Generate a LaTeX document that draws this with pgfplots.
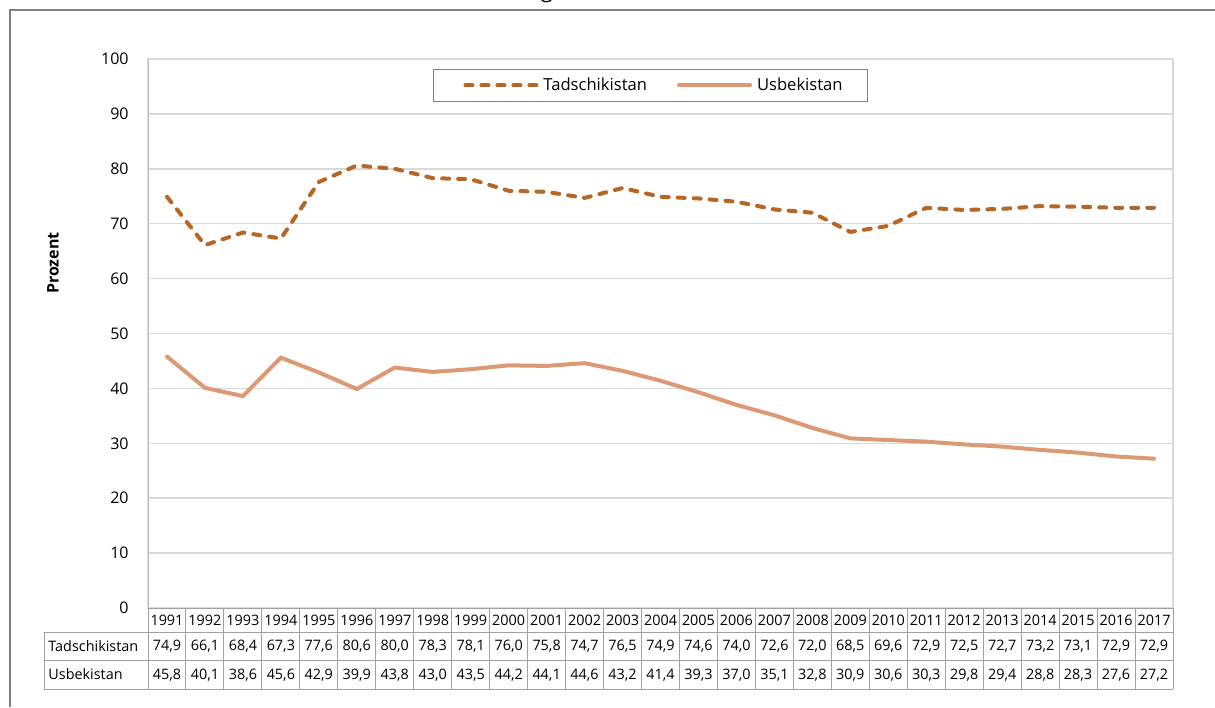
\documentclass[border=0pt]{standalone}
\usepackage{pgfplots}
\pgfplotsset{compat=1.18}
\usepackage{fontspec}
\setmainfont{Open Sans}
\definecolor{tad}{RGB}{184,102,36}
\definecolor{usb}{RGB}{221,152,116}
\definecolor{gridc}{RGB}{217,217,217}
\definecolor{axc}{RGB}{191,191,191}
\definecolor{tabc}{RGB}{160,160,160}
\definecolor{framec}{RGB}{128,128,128}
\begin{document}
\begin{tikzpicture}
\useasboundingbox (0pt,0pt) rectangle (607.5pt,-353.5pt);
\begin{scope}[x=0.5pt,y=-0.5pt]
% frame
\draw[framec, line width=1pt] (10,707) -- (10,10) -- (1215,10);
% cut title
\node[anchor=base, font=\fontsize{11}{13}\selectfont, inner sep=0pt] at (547,-3) {g};
\end{scope}
\begin{axis}[
  at={(74pt,-304pt)}, anchor=south west,
  scale only axis, width=512.5pt, height=274.5pt,
  xmin=-0.5, xmax=26.5, ymin=0, ymax=100,
  ytick={0,10,...,100},
  xtick=\empty,
  major tick length=0pt,
  ymajorgrids, grid style={gridc, line width=0.75pt},
  axis line style={gridc, line width=0.75pt},
  yticklabel style={font=\fontsize{8}{10}\selectfont, inner sep=0pt, xshift=-9.5pt},
  /pgf/number format/assume math mode=true,
  ylabel={Prozent},
  ylabel style={font=\fontsize{8}{10}\selectfont\bfseries, at={(axis description cs:-0.0927,0.628)}, anchor=center, rotate=0},
  legend columns=2,
  legend style={at={(axis description cs:0.278,0.9818)}, anchor=north west,
    draw=framec, line width=0.5pt, font=\fontsize{8.3}{10}\selectfont,
    inner xsep=11pt, inner ysep=2pt,
    /tikz/every odd column/.style={column sep=1pt},
    /tikz/every even column/.style={column sep=9.5pt},
    nodes={inner xsep=1.5pt}},
  legend cell align=left,
  legend image code/.code={\path (-4pt,0pt); \draw[#1] (0pt,0pt) -- (35.5pt,0pt);},
]
\addplot[tad, line width=2pt, line cap=round, dash pattern=on 3.5pt off 4.5pt] coordinates {
(0,74.9)(1,66.1)(2,68.4)(3,67.3)(4,77.6)(5,80.6)(6,80.0)(7,78.3)(8,78.1)(9,76.0)(10,75.8)(11,74.7)(12,76.5)(13,74.9)(14,74.6)(15,74.0)(16,72.6)(17,72.0)(18,68.5)(19,69.6)(20,72.9)(21,72.5)(22,72.7)(23,73.2)(24,73.1)(25,72.9)(26,72.9)};
\addlegendentry{Tadschikistan}
\addplot[usb, line width=2pt, line cap=round] coordinates {
(0,45.8)(1,40.1)(2,38.6)(3,45.6)(4,42.9)(5,39.9)(6,43.8)(7,43.0)(8,43.5)(9,44.2)(10,44.1)(11,44.6)(12,43.2)(13,41.4)(14,39.3)(15,37.0)(16,35.1)(17,32.8)(18,30.9)(19,30.6)(20,30.3)(21,29.8)(22,29.4)(23,28.8)(24,28.3)(25,27.6)(26,27.2)};
\addlegendentry{Usbekistan}
\draw[axc, line width=1pt] (axis description cs:0,0) -- (axis description cs:0,1);
\end{axis}
\begin{scope}[x=0.5pt,y=-0.5pt]
% table
\def\cw{37.963}
\foreach \k in {0,...,27}{
  \pgfmathsetmacro{\xx}{148+\cw*\k}
  \draw[tabc, line width=0.5pt] (\xx,608) -- (\xx,689);
}
\draw[tabc, line width=0.5pt] (44,632) -- (44,689);
\draw[tabc, line width=0.5pt] (44,632) -- (1173,632);
\draw[tabc, line width=0.5pt] (44,660) -- (1173,660);
\draw[tabc, line width=0.5pt] (44,689) -- (1173,689);
\draw[tabc, line width=0.5pt] (148,608) -- (1173,608);
\tikzset{tt/.style={font=\fontsize{7.2}{9}\selectfont, inner sep=0pt, anchor=center}}
\node[tt, anchor=west] at (48,646) {Tadschikistan};
\node[tt, anchor=west] at (48,674.5) {Usbekistan};
\foreach \yr [count=\i from 0] in {1991,...,2017}{
  \pgfmathsetmacro{\xx}{148+\cw*(\i+0.5)}
  \node[tt] at (\xx,620.5) {\yr};
}
\foreach \v [count=\i from 0] in {{74,9},{66,1},{68,4},{67,3},{77,6},{80,6},{80,0},{78,3},{78,1},{76,0},{75,8},{74,7},{76,5},{74,9},{74,6},{74,0},{72,6},{72,0},{68,5},{69,6},{72,9},{72,5},{72,7},{73,2},{73,1},{72,9},{72,9}}{
  \pgfmathsetmacro{\xx}{148+\cw*(\i+0.5)}
  \node[tt] at (\xx,646.5) {\v};
}
\foreach \v [count=\i from 0] in {{45,8},{40,1},{38,6},{45,6},{42,9},{39,9},{43,8},{43,0},{43,5},{44,2},{44,1},{44,6},{43,2},{41,4},{39,3},{37,0},{35,1},{32,8},{30,9},{30,6},{30,3},{29,8},{29,4},{28,8},{28,3},{27,6},{27,2}}{
  \pgfmathsetmacro{\xx}{148+\cw*(\i+0.5)}
  \node[tt] at (\xx,675) {\v};
}
\end{scope}
\end{tikzpicture}
\end{document}
